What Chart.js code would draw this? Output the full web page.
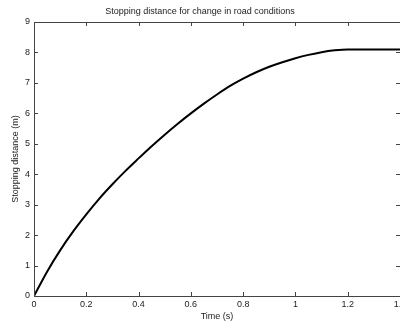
<!DOCTYPE html>
<html>
<head>
<meta charset="utf-8">
<script src="https://cdn.jsdelivr.net/npm/chart.js@4"></script>
<style>
html,body{margin:0;padding:0;background:#fff;}
#wrap{width:400px;height:322px;position:relative;}
</style>
</head>
<body>
<div id="wrap"><canvas id="c" width="400" height="322"></canvas></div>
<script>
const timeValues = [0, 0.05, 0.1, 0.15, 0.2, 0.25, 0.3, 0.35, 0.4, 0.45, 0.5, 0.55, 0.6, 0.65, 0.7, 0.75, 0.8, 0.85, 0.9, 0.95, 1.0, 1.05, 1.1, 1.15, 1.2, 1.4];
const distanceValues = [0, 0.8, 1.5, 2.12, 2.68, 3.2, 3.67, 4.11, 4.52, 4.92, 5.3, 5.66, 6.0, 6.32, 6.62, 6.9, 7.14, 7.35, 7.53, 7.68, 7.81, 7.92, 8.01, 8.07, 8.1, 8.1];
const xTickValues = [0, 0.2, 0.4, 0.6, 0.8, 1, 1.2, 1.4];
const yTickValues = [0, 1, 2, 3, 4, 5, 6, 7, 8, 9];
const titleText = 'Stopping distance for change in road conditions';
const xLabel = 'Time (s)';
const yLabel = 'Stopping distance (m)';

const points = timeValues.map((t, i) => ({x: t, y: distanceValues[i]}));
const FONT = 'Liberation Sans, Arial, sans-serif';

const boxTicks = {
  id: 'boxTicks',
  afterDraw(chart) {
    const {ctx, chartArea: a, scales} = chart;
    ctx.save();
    ctx.strokeStyle = '#444';
    ctx.lineWidth = 1;
    ctx.beginPath();
    ctx.rect(Math.round(a.left) + 0.5, Math.round(a.top) + 0.5, Math.round(a.right - a.left), Math.round(a.bottom - a.top));
    ctx.stroke();
    const L = 4;
    ctx.beginPath();
    xTickValues.forEach(v => {
      const px = Math.round(scales.x.getPixelForValue(v)) + 0.5;
      ctx.moveTo(px, a.bottom); ctx.lineTo(px, a.bottom - L);
      ctx.moveTo(px, a.top); ctx.lineTo(px, a.top + L);
    });
    yTickValues.forEach(v => {
      const py = Math.round(scales.y.getPixelForValue(v)) + 0.5;
      ctx.moveTo(a.left, py); ctx.lineTo(a.left + L, py);
      ctx.moveTo(a.right, py); ctx.lineTo(a.right - L, py);
    });
    ctx.stroke();
    ctx.restore();
  }
};

new Chart(document.getElementById('c'), {
  type: 'line',
  data: {
    datasets: [{
      data: points,
      borderColor: '#000',
      borderWidth: 2,
      pointRadius: 0,
      fill: false,
      cubicInterpolationMode: 'monotone'
    }]
  },
  options: {
    responsive: false,
    animation: false,
    layout: {padding: {left: 0, right: 0, top: 0, bottom: 0}},
    plugins: {
      legend: {display: false},
      tooltip: {enabled: false},
      title: {
        display: true,
        text: titleText,
        color: '#222',
        font: {family: FONT, size: 9, weight: 'normal'},
        padding: {top: 6, bottom: 5.2}
      }
    },
    scales: {
      x: {
        type: 'linear',
        min: 0, max: 1.4,
        grid: {display: false, drawTicks: false},
        border: {display: false},
        afterBuildTicks: s => { s.ticks = xTickValues.map(v => ({value: v})); },
        afterFit: s => { s.height = 26; s.paddingLeft = 0; s.paddingRight = 0; },
        ticks: {
          color: '#222', padding: 3, maxRotation: 0, autoSkip: false,
          font: {family: FONT, size: 9},
          callback: v => String(v)
        },
        title: {
          display: true, text: xLabel, color: '#222',
          font: {family: FONT, size: 9}, padding: {top: 0, bottom: 0}
        }
      },
      y: {
        type: 'linear',
        min: 0, max: 9,
        grid: {display: false, drawTicks: false},
        border: {display: false},
        afterBuildTicks: s => { s.ticks = yTickValues.map(v => ({value: v})); },
        afterFit: s => { s.width = 34; s.paddingTop = 0; s.paddingBottom = 0; },
        ticks: {
          color: '#222', padding: 4, autoSkip: false,
          font: {family: FONT, size: 9},
          callback: v => String(v)
        },
        title: {
          display: true, text: yLabel, color: '#222',
          font: {family: FONT, size: 9}, padding: {top: 10, bottom: 0}
        }
      }
    }
  },
  plugins: [boxTicks]
});
</script>
</body>
</html>
